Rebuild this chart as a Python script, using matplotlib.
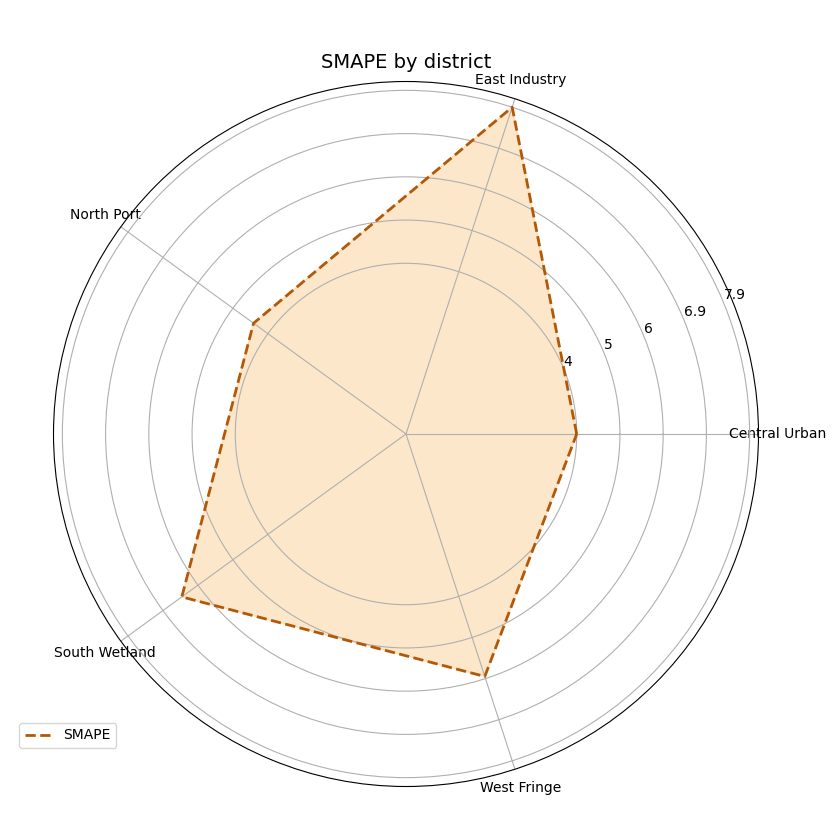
import numpy as np
import matplotlib
matplotlib.use('Agg')
import matplotlib.pyplot as plt

# data
districts = ['Central Urban', 'East Industry', 'North Port', 'South Wetland', 'West Fringe']
smape = [4.0, 7.9, 4.4, 6.4, 5.9]

n = len(districts)
angles = np.linspace(0, 2 * np.pi, n, endpoint=False)
ang_c = np.concatenate([angles, angles[:1]])
val_c = np.concatenate([smape, smape[:1]])

fig = plt.figure(figsize=(8.4, 8.4), dpi=100)
ax = fig.add_axes([53.5 / 840, 53.5 / 840, 705 / 840, 705 / 840], projection='polar')

ax.plot(ang_c, val_c, color='#b35806', lw=2, ls='--', label='SMAPE')
ax.fill(ang_c, val_c, color='#f7b55c', alpha=0.32)

ax.set_xticks(angles)
ax.set_xticklabels(districts, fontsize=10)

vmin, vmax = min(smape), max(smape)
rticks = np.linspace(vmin, vmax, 5)
ax.set_ylim(0.15, 8.1)
ax.set_yticks(rticks)
ax.set_yticklabels([f'{t:.2g}' for t in rticks], fontsize=10)

ax.set_title('SMAPE by district', fontsize=14, pad=10)
ax.legend(loc='lower left', bbox_to_anchor=(19 / 840, 92 / 840),
          bbox_transform=fig.transFigure, borderaxespad=0)

fig.savefig('out.png', dpi=100)
